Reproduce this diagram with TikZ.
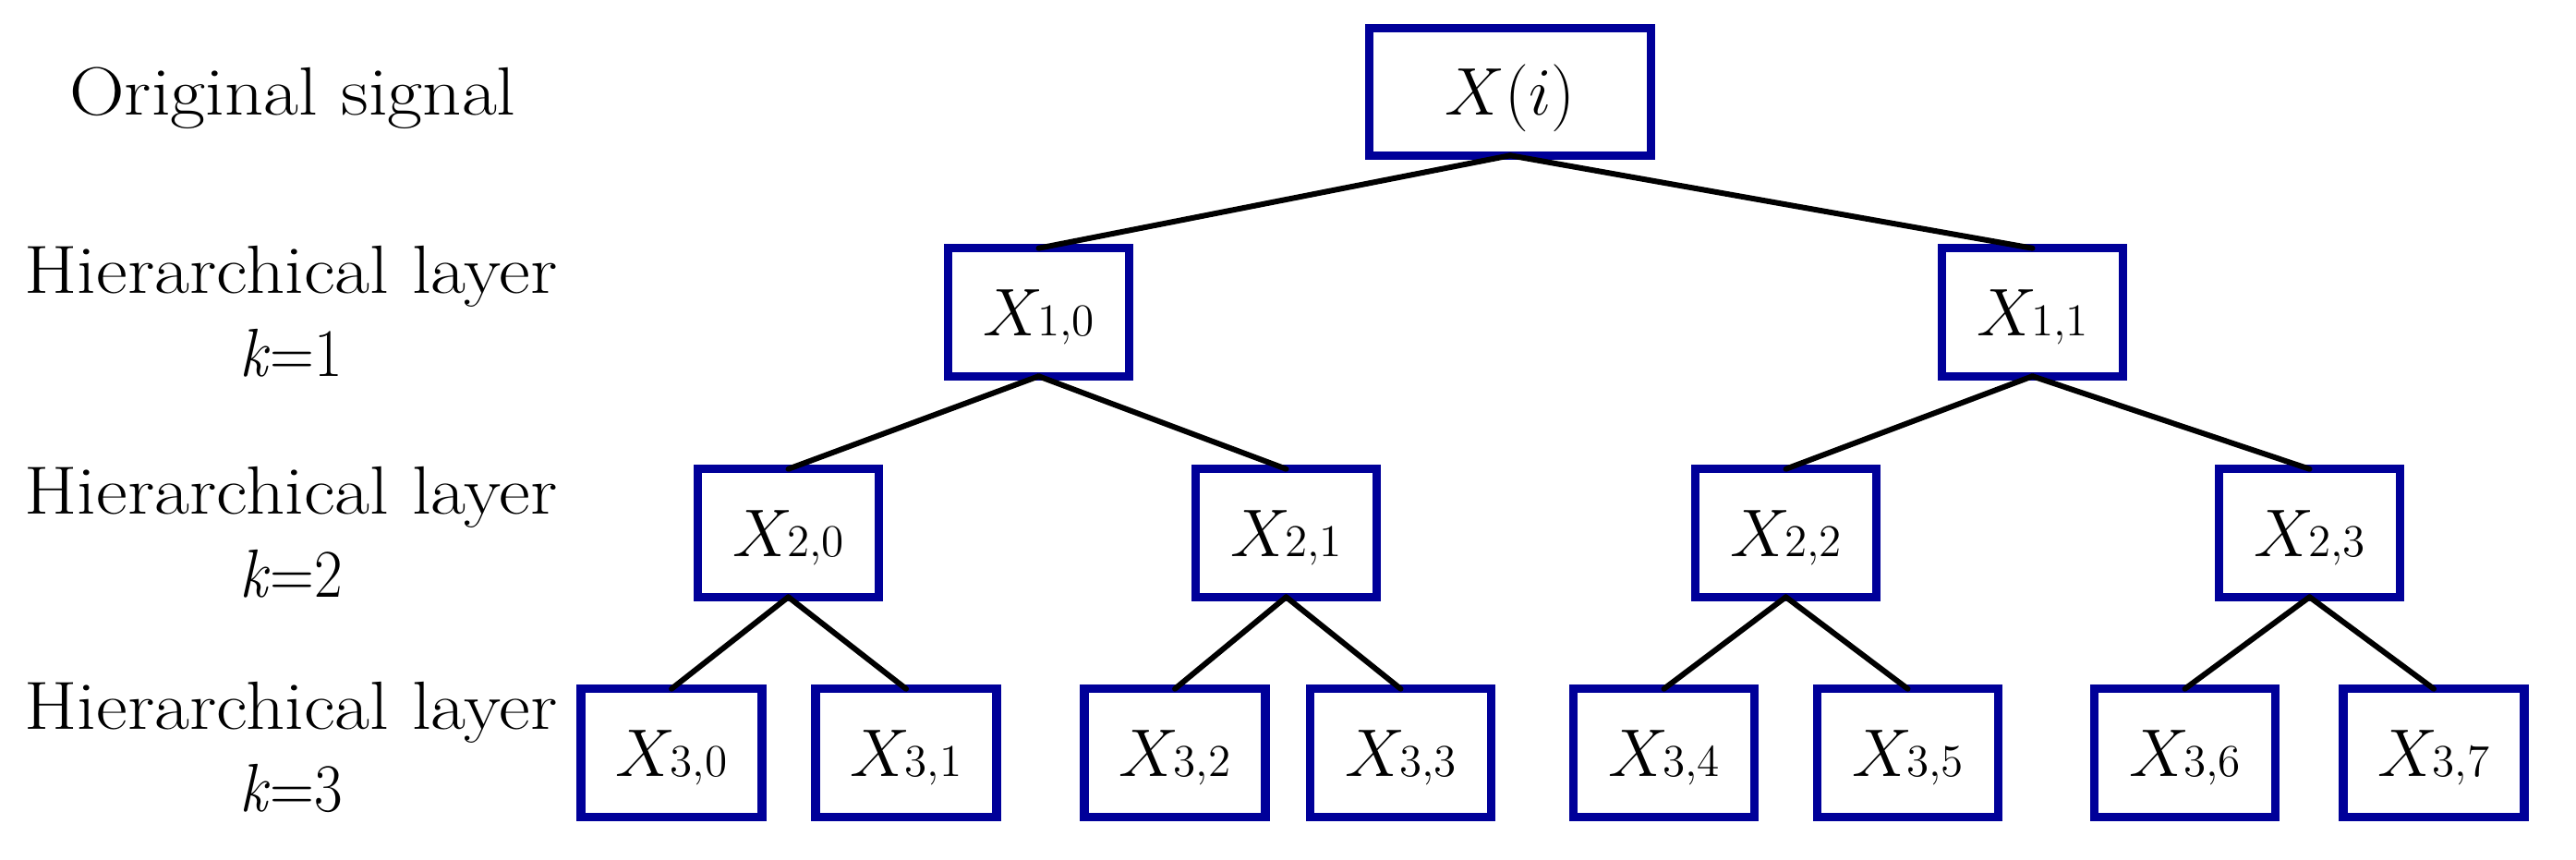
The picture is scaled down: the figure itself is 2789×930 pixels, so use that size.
\documentclass[tikz,border=0pt]{standalone}
\definecolor{boxblue}{RGB}{0,0,153}
\tikzset{
  tbox/.style={draw=boxblue, line width=0.095cm, minimum width=1.955cm, minimum height=1.385cm,
    inner sep=0pt, outer sep=0pt, text height=0.5cm, text depth=0cm, font=\fontsize{21}{25}\selectfont},
  rootbox/.style={tbox, minimum width=3.045cm, minimum height=1.375cm},
  conn/.style={line width=0.06cm, black, line cap=round},
  lbl/.style={align=center, inner sep=0pt, font=\fontsize{21}{25.5}\selectfont}
}
\newcommand{\Xsub}[1]{$X$\kern-0.08em{\fontsize{14}{14}\selectfont #1}}
\newcommand{\wide}[1]{\scalebox{1.12}[1]{#1}}
\newcommand{\kval}[1]{\scalebox{0.9}[1]{\textit{k}=#1}}
\begin{document}
\begin{tikzpicture}[x=0.01cm,y=-0.01cm]
\useasboundingbox (0,0) rectangle (2789,930);
% labels
\node[lbl, anchor=base] (l0) at (317,124) {\wide{Original signal}};
\node[lbl] (l1) at (315,337.5) {\wide{Hierarchical layer}\\\kval{1}};
\node[lbl] (l2) at (315,576) {\wide{Hierarchical layer}\\\kval{2}};
\node[lbl] (l3) at (315,809) {\wide{Hierarchical layer}\\\kval{3}};
% boxes
\node[rootbox] (r) at (1635,99.5) {$X(i)$};
\node[tbox] (a0) at (1124.5,338) {\Xsub{1,0}};
\node[tbox] (a1) at (2200.5,338) {\Xsub{1,1}};
\node[tbox] (b0) at (853.5,577) {\Xsub{2,0}};
\node[tbox] (b1) at (1392.5,577) {\Xsub{2,1}};
\node[tbox] (b2) at (1933.5,577) {\Xsub{2,2}};
\node[tbox] (b3) at (2500.5,577) {\Xsub{2,3}};
\node[tbox] (c0) at (727,815) {\Xsub{3,0}};
\node[tbox] (c1) at (981,815) {\Xsub{3,1}};
\node[tbox] (c2) at (1272,815) {\Xsub{3,2}};
\node[tbox] (c3) at (1516.5,815) {\Xsub{3,3}};
\node[tbox] (c4) at (1801.5,815) {\Xsub{3,4}};
\node[tbox] (c5) at (2065.5,815) {\Xsub{3,5}};
\node[tbox] (c6) at (2365.5,815) {\Xsub{3,6}};
\node[tbox] (c7) at (2635,815) {\Xsub{3,7}};
% connectors
\draw[conn] (r.south) -- (a0.north);
\draw[conn] (r.south) -- (a1.north);
\draw[conn] (a0.south) -- (b0.north);
\draw[conn] (a0.south) -- (b1.north);
\draw[conn] (a1.south) -- (b2.north);
\draw[conn] (a1.south) -- (b3.north);
\draw[conn] (b0.south) -- (c0.north);
\draw[conn] (b0.south) -- (c1.north);
\draw[conn] (b1.south) -- (c2.north);
\draw[conn] (b1.south) -- (c3.north);
\draw[conn] (b2.south) -- (c4.north);
\draw[conn] (b2.south) -- (c5.north);
\draw[conn] (b3.south) -- (c6.north);
\draw[conn] (b3.south) -- (c7.north);
\end{tikzpicture}
\end{document}
